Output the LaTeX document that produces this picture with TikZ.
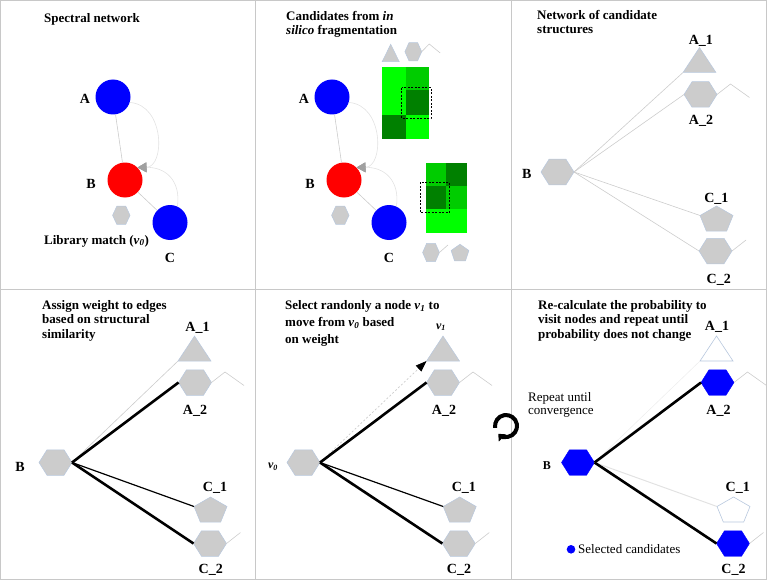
\documentclass[tikz,border=0pt]{standalone}
\usepackage{fontspec}
\setmainfont{Liberation Serif}
\usetikzlibrary{arrows.meta}
\definecolor{shapegray}{HTML}{CCCCCC}
\definecolor{shapeline}{HTML}{B8C8DE}
\definecolor{edgegray}{HTML}{CCCCCC}
\definecolor{faintgray}{HTML}{E2E2E2}
\definecolor{palegray}{HTML}{EEEEEE}
\definecolor{arrowgray}{HTML}{A0A0A0}
\definecolor{framegray}{HTML}{C8C8C8}
\definecolor{gA}{HTML}{00FF00}
\definecolor{gB}{HTML}{00CC00}
\definecolor{gC}{HTML}{008000}
\definecolor{pureblue}{HTML}{0000FF}
\definecolor{purered}{HTML}{FF0000}
\tikzset{
  shp/.style={fill=shapegray, draw=shapeline, line width=0.5pt},
  outl/.style={fill=white, draw=shapeline, line width=0.6pt},
  bluesh/.style={fill=pureblue, draw=pureblue, line width=0.4pt},
  edge/.style={draw=edgegray, line width=0.6pt},
  thinblack/.style={draw=black, line width=1.2pt},
  thickblack/.style={draw=black, line width=2.6pt},
  circ/.style={circle, minimum size=35pt, inner sep=0pt, draw=none},
  titletxt/.style={font=\fontsize{13}{14.3}\selectfont\bfseries, align=left, inner sep=0pt, anchor=base west},
  plaintxt/.style={font=\fontsize{13}{13}\selectfont, align=left, inner sep=0pt, anchor=base west},
  lab/.style={font=\fontsize{14}{16}\selectfont\bfseries, inner sep=0pt, anchor=base},
  smalllab/.style={font=\fontsize{12}{14}\selectfont\bfseries, inner sep=0pt, anchor=base},
  dashbox/.style={draw=black, line width=1pt, dash pattern=on 2pt off 1.5pt},
  hexa/.pic={
    \path[pic actions] (-16.5,0) -- (-8.5,-12.75) -- (8.5,-12.75) -- (16.5,0) -- (8.5,12.75) -- (-8.5,12.75) -- cycle;
    \coordinate (-w) at (-16.5,0);
    \coordinate (-e) at (16.5,0);
  },
  trig/.pic={
    \path[pic actions] (-16.5,12.5) -- (0,-12.5) -- (16.5,12.5) -- cycle;
    \coordinate (-sw) at (-16.5,12.5);
  },
  penta/.pic={
    \path[pic actions] (0,-12.5) -- (16.5,-3) -- (10.2,12.5) -- (-10.2,12.5) -- (-16.5,-3) -- cycle;
    \coordinate (-w) at (-16.5,-3);
  },
  spectral/.pic={
    \node[circ, fill=pureblue] (-A) at (113,97) {};
    \node[circ, fill=purered] (-B) at (125,180) {};
    \node[circ, fill=pureblue] (-C) at (170,222.5) {};
    \node[lab] (-lA) at (85,103.5) {A};
    \node[lab] (-lB) at (91,188) {B};
    \node[lab] (-lC) at (170,262) {C};
    \draw[edge] (-A) -- (-B);
    \draw[edge] (-B) -- (-C);
    \draw[draw=faintgray, line width=0.6pt, -{Triangle[length=9pt,width=10pt,color=arrowgray]}]
      (-A.-18) .. controls (165,105) and (165,167) .. (-B.45);
    \draw[draw=faintgray, line width=0.6pt, -{Triangle[length=9pt,width=10pt,color=arrowgray]}]
      (-C.65) .. controls (181,180) and (165,167) .. (-B.45);
    \pic[shp, xscale=0.53, yscale=0.71] (-h) at (121.3,215.3) {hexa};
  }
}
\begin{document}
\begin{tikzpicture}[x=1pt,y=-1pt]
\useasboundingbox (0,0) rectangle (767,580);
% frame and panel dividers
\draw[framegray, line width=1pt] (0.5,0.5) rectangle (766.5,579.5);
\draw[framegray, line width=1pt] (255.5,0) -- (255.5,580);
\draw[framegray, line width=1pt] (511,0) -- (511,580);
\draw[framegray, line width=1pt] (0,289.5) -- (767,289.5);

% ---------- Panel 1 ----------
\node[titletxt] (t1) at (44,22.6) {Spectral network};
\pic (p1) at (0,0) {spectral};
\node[font=\fontsize{13}{14}\selectfont\bfseries, inner sep=0pt, anchor=base west] (lib) at (44,244) {Library match (\textit{v}\textsubscript{\textit{0}})};

% ---------- Panel 2 ----------
\node[titletxt] (t2) at (286,34.9) {Candidates from \textit{in}\\\textit{silico} fragmentation};
\pic (p2) at (219,0) {spectral};
\fill[gA] (381.7,66.7) rectangle (405.7,90);
\fill[gB] (405.7,66.7) rectangle (429,90);
\fill[gA] (381.7,90) rectangle (405.7,115);
\fill[gC] (405.7,90) rectangle (429,115);
\fill[gC] (381.7,115) rectangle (405.7,139);
\fill[gA] (405.7,115) rectangle (429,139);
\draw[dashbox] (401.7,87.7) rectangle (431,118.3);
\fill[gB] (425.7,162.7) rectangle (446,186);
\fill[gC] (446,162.7) rectangle (466.7,186);
\fill[gC] (425.7,186) rectangle (446,209.3);
\fill[gB] (446,186) rectangle (466.7,209.3);
\fill[gA] (425.7,209.3) rectangle (466.7,232.7);
\draw[dashbox] (420,182.3) rectangle (449.3,212.7);
\pic[shp, xscale=0.52, yscale=0.7] (p2t) at (390.7,53) {trig};
\pic[shp, xscale=0.51, yscale=0.71] (p2h) at (413.3,51.7) {hexa};
\draw[edge] (p2h-e) -- ++(7.5,-7.7) -- ++(11,9);
\pic[shp, xscale=0.51, yscale=0.72] (p2hb) at (431,252.5) {hexa};
\draw[edge] (p2hb-e) -- ++(8.5,-7.5);
\pic[shp, xscale=0.54, yscale=0.66] (p2p) at (460,252.5) {penta};

% ---------- Panel 3 ----------
\node[titletxt] (t3) at (537,33.6) {Network of candidate\\structures};
\pic[shp] (p3B) at (557.5,172) {hexa};
\pic[shp] (p3A1) at (699.5,60) {trig};
\pic[shp] (p3A2) at (700.5,94.5) {hexa};
\pic[shp] (p3C1) at (716.5,218.5) {penta};
\pic[shp] (p3C2) at (715.5,251) {hexa};
\draw[edge] (p3B-e) -- (p3A1-sw);
\draw[edge] (p3B-e) -- (p3A2-w);
\draw[edge] (p3B-e) -- (p3C1-w);
\draw[edge] (p3B-e) -- (p3C2-w);
\draw[edge] (p3A2-e) -- ++(13.5,-10.5) -- ++(19,13.5);
\draw[edge] (p3C2-e) -- ++(14,-11);
\node[lab] (l3A1) at (700.8,44.5) {A\_1};
\node[lab] (l3A2) at (701,124.5) {A\_2};
\node[lab] (l3C1) at (716.3,202) {C\_1};
\node[lab] (l3C2) at (718.7,283) {C\_2};
\node[lab] (l3B) at (526.8,178) {B};

% ---------- Panel 4 ----------
\node[titletxt] (t4) at (42,338.2) {Assign weight to edges\\based on structural\\similarity};
\pic[shp] (p4B) at (55.5,462.5) {hexa};
\pic[shp] (p4A1) at (194.5,348.5) {trig};
\pic[shp] (p4A2) at (195,382.5) {hexa};
\pic[shp] (p4C1) at (210.5,509.5) {penta};
\pic[shp] (p4C2) at (210,543.5) {hexa};
\draw[edge] (p4B-e) -- (p4A1-sw);
\draw[thickblack] (p4B-e) -- (p4A2-w);
\draw[thinblack] (p4B-e) -- (p4C1-w);
\draw[thickblack] (p4B-e) -- (p4C2-w);
\draw[edge] (p4A2-e) -- ++(13.5,-10.5) -- ++(19,13.5);
\draw[edge] (p4C2-e) -- ++(14,-11);
\node[lab] (l4A1) at (197.5,331) {A\_1};
\node[lab] (l4A2) at (195,414.5) {A\_2};
\node[lab] (l4C1) at (215,491) {C\_1};
\node[lab] (l4C2) at (210.8,573) {C\_2};
\node[lab] (l4B) at (20,471) {B};

% ---------- Panel 5 ----------
\node[titletxt] (t5) at (285,343.5) {Select randonly a node \textit{v}\textsubscript{\textit{1}} to\\[2.7pt]move from \textit{v}\textsubscript{\textit{0}} based\\[2.7pt]on weight};
\pic[shp] (p5B) at (303.5,462.5) {hexa};
\pic[shp] (p5A1) at (443,348.5) {trig};
\pic[shp] (p5A2) at (443,382.5) {hexa};
\pic[shp] (p5C1) at (459.7,509.5) {penta};
\pic[shp] (p5C2) at (458.8,543.5) {hexa};
\draw[draw=edgegray, line width=0.7pt, dash pattern=on 2pt off 2pt, -{Triangle[length=11pt,width=8pt,color=black]}] (p5B-e) -- (p5A1-sw);
\draw[thickblack] (p5B-e) -- (p5A2-w);
\draw[thinblack] (p5B-e) -- (p5C1-w);
\draw[thickblack] (p5B-e) -- (p5C2-w);
\draw[edge] (p5A2-e) -- ++(13.5,-10.5) -- ++(19,13.5);
\draw[edge] (p5C2-e) -- ++(14,-11);
\node[smalllab] (l5v1) at (441,329) {\textit{v}\textsubscript{\textit{1}}};
\node[lab] (l5A2) at (444,414.5) {A\_2};
\node[lab] (l5C1) at (463.8,491) {C\_1};
\node[lab] (l5C2) at (459,573) {C\_2};
\node[smalllab] (l5v0) at (273,468.5) {\textit{v}\textsubscript{\textit{0}}};

% repeat symbol
\begin{scope}[shift={(506,426)}, x=1pt, y=1pt]
  \draw[line width=4pt, -{Triangle[length=6pt,width=10pt]}] (190:11) arc[start angle=190, end angle=-135, radius=11];
\end{scope}
\node[plaintxt] (rep) at (528,414.3) {Repeat until\\convergence};

% ---------- Panel 6 ----------
\node[titletxt] (t6) at (538,338.2) {Re-calculate the probability to\\visit nodes and repeat until\\probability does not change};
\pic[bluesh] (p6B) at (578,462.5) {hexa};
\pic[outl] (p6A1) at (716.5,348.5) {trig};
\pic[bluesh] (p6A2) at (717.5,382.5) {hexa};
\pic[outl] (p6C1) at (733.5,509.5) {penta};
\pic[bluesh] (p6C2) at (733,543.5) {hexa};
\draw[draw=palegray, line width=0.6pt] (p6B-e) -- (p6A1-sw);
\draw[thickblack] (p6B-e) -- (p6A2-w);
\draw[draw=faintgray, line width=1pt] (p6B-e) -- (p6C1-w);
\draw[thickblack] (p6B-e) -- (p6C2-w);
\draw[edge] (p6A2-e) -- ++(13.5,-10.5) -- ++(19,13.5);
\draw[edge] (p6C2-e) -- ++(14,-11);
\node[lab] (l6A1) at (717,330.5) {A\_1};
\node[lab] (l6A2) at (718.5,414.5) {A\_2};
\node[lab] (l6C1) at (737.7,491) {C\_1};
\node[lab] (l6C2) at (733.5,573) {C\_2};
\node[smalllab] (l6B) at (546.8,469) {B};
\node[circle, fill=pureblue, minimum size=8.6pt, inner sep=0pt] (dot) at (571,549.3) {};
\node[plaintxt] (leg) at (578,553) {Selected candidates};
\end{tikzpicture}
\end{document}
